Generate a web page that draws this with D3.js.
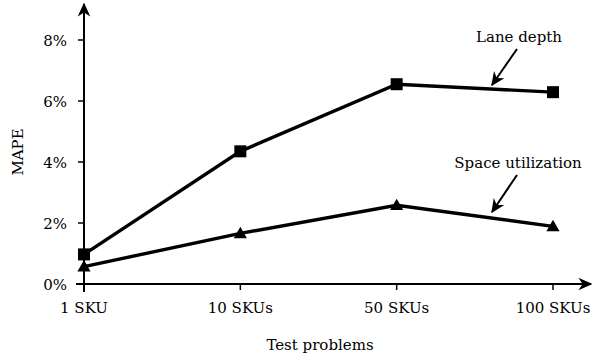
<!DOCTYPE html>
<html>
<head>
<meta charset="utf-8">
<script src="https://cdn.jsdelivr.net/npm/d3@7"></script>
<style>
  body { margin: 0; background: #fff; }
</style>
</head>
<body>
<svg id="chart" width="592" height="360"></svg>
<script>
var categories = ['1 SKU', '10 SKUs', '50 SKUs', '100 SKUs']
var laneDepth = [0.97, 4.35, 6.55, 6.29]
var spaceUtil = [0.57, 1.66, 2.58, 1.89]
var yTicks = [0, 2, 4, 6, 8]

var font = "'DejaVu Serif', serif"
var fs = 15

var svg = d3.select('#chart')
  .attr('font-family', font)

// axis positions
var x0 = 84, xEnd = 591, y0 = 284, yTop = 4

var xScale = d3.scalePoint()
  .domain(categories)
  .range([84, 553])

var yScale = d3.scaleLinear()
  .domain([0, 8])
  .range([284, 40])

var defs = svg.append('defs')
defs.append('marker')
  .attr('id', 'arr')
  .attr('viewBox', '0 0 10 10')
  .attr('refX', 9).attr('refY', 5)
  .attr('markerWidth', 7).attr('markerHeight', 7)
  .attr('markerUnits', 'strokeWidth')
  .attr('orient', 'auto')
  .append('path')
  .attr('d', 'M0,0.5 L10,5 L0,9.5 L3,5 Z')
  .attr('fill', '#000')

// axes
svg.append('line')
  .attr('x1', x0 - 8).attr('y1', y0).attr('x2', xEnd).attr('y2', y0)
  .attr('stroke', '#000').attr('stroke-width', 2)
  .attr('marker-end', 'url(#arr)')
svg.append('line')
  .attr('x1', x0).attr('y1', y0 + 8).attr('x2', x0).attr('y2', yTop)
  .attr('stroke', '#000').attr('stroke-width', 2)
  .attr('marker-end', 'url(#arr)')

// y ticks
svg.selectAll('.ytick').data(yTicks).enter().append('line')
  .attr('x1', x0 - 6).attr('x2', x0)
  .attr('y1', d => yScale(d)).attr('y2', d => yScale(d))
  .attr('stroke', '#000').attr('stroke-width', 1.5)
svg.selectAll('.ylab').data(yTicks).enter().append('text')
  .attr('x', x0 - 17).attr('y', d => yScale(d) + 5.5)
  .attr('text-anchor', 'end')
  .attr('font-size', fs)
  .text(d => d + '%')

// x ticks
svg.selectAll('.xtick').data(categories).enter().append('line')
  .attr('x1', d => xScale(d)).attr('x2', d => xScale(d))
  .attr('y1', y0).attr('y2', y0 + 6)
  .attr('stroke', '#000').attr('stroke-width', 1.5)
svg.selectAll('.xlab').data(categories).enter().append('text')
  .attr('x', d => xScale(d)).attr('y', y0 + 29)
  .attr('text-anchor', 'middle')
  .attr('font-size', fs)
  .text(d => d)

svg.append('text')
  .attr('x', 320).attr('y', 350)
  .attr('text-anchor', 'middle')
  .attr('font-size', fs)
  .text('Test problems')
svg.append('text')
  .attr('transform', 'translate(23,152) rotate(-90)')
  .attr('text-anchor', 'middle')
  .attr('font-size', fs)
  .text('MAPE')

var line = d3.line()
  .x((d, i) => xScale(categories[i]))
  .y(d => yScale(d))

svg.append('path').datum(laneDepth)
  .attr('d', line).attr('fill', 'none')
  .attr('stroke', '#000').attr('stroke-width', 3.4)
svg.append('path').datum(spaceUtil)
  .attr('d', line).attr('fill', 'none')
  .attr('stroke', '#000').attr('stroke-width', 3.4)

svg.selectAll('.sq').data(laneDepth).enter().append('rect')
  .attr('x', (d, i) => xScale(categories[i]) - 6)
  .attr('y', d => yScale(d) - 6)
  .attr('width', 12).attr('height', 12)
  .attr('fill', '#000')

var tri = d3.symbol().type(d3.symbolTriangle).size(75)
svg.selectAll('.tri').data(spaceUtil).enter().append('path')
  .attr('d', tri)
  .attr('transform', (d, i) => 'translate(' + xScale(categories[i]) + ',' + (yScale(d) + 1) + ')')
  .attr('fill', '#000')

// annotations
svg.append('text')
  .attr('x', 519).attr('y', 42)
  .attr('text-anchor', 'middle')
  .attr('font-size', fs)
  .text('Lane depth')
svg.append('line')
  .attr('x1', 517).attr('y1', 49).attr('x2', 492).attr('y2', 85)
  .attr('stroke', '#000').attr('stroke-width', 2)
  .attr('marker-end', 'url(#arr)')

svg.append('text')
  .attr('x', 518).attr('y', 168)
  .attr('text-anchor', 'middle')
  .attr('font-size', fs)
  .text('Space utilization')
svg.append('line')
  .attr('x1', 517).attr('y1', 175).attr('x2', 492).attr('y2', 212)
  .attr('stroke', '#000').attr('stroke-width', 2)
  .attr('marker-end', 'url(#arr)')
</script>
</body>
</html>
